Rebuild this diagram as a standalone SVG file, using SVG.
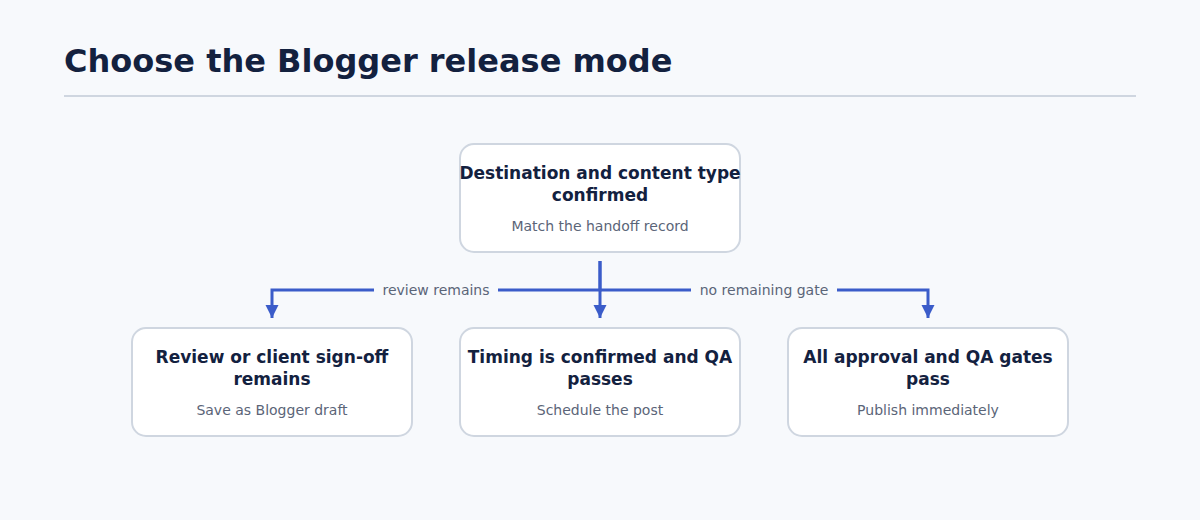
<svg xmlns="http://www.w3.org/2000/svg" width="1200" height="520" viewBox="0 0 1200 520">
<style>
.n{fill:#fff;stroke:#cfd6e0;stroke-width:2}
.t{font-family:"DejaVu Sans",sans-serif;font-size:17px;font-weight:bold;fill:#13213f;text-anchor:middle}
.s{font-family:"DejaVu Sans",sans-serif;font-size:14px;fill:#5b6578;text-anchor:middle}
.e{fill:none;stroke:#3b5cc9;stroke-width:3}
.l{font-family:"DejaVu Sans",sans-serif;font-size:14px;fill:#5b6578;text-anchor:middle}
</style>
<defs><marker id="a" viewBox="0 0 10 10" refX="10" refY="5" markerWidth="4.5" markerHeight="4.5" markerUnits="strokeWidth" orient="auto"><path d="M0,0L10,5L0,10z" fill="#3b5cc9"/></marker></defs>
<rect width="1200" height="520" fill="#f7f9fc"/>
<text x="64" y="72" font-family="DejaVu Sans,sans-serif" font-size="32" font-weight="bold" fill="#13213f">Choose the Blogger release mode</text>
<line x1="64" y1="96" x2="1136" y2="96" stroke="#cfd6e0" stroke-width="2"/>
<g id="edges">
<path class="e" d="M600,261V290H272V318" marker-end="url(#a)"/>
<path class="e" d="M600,261V318" marker-end="url(#a)"/>
<path class="e" d="M600,290H928V318" marker-end="url(#a)"/>
<rect x="374" y="279" width="124" height="22" fill="#f7f9fc"/>
<text class="l" x="436" y="295">review remains</text>
<rect x="691" y="279" width="146" height="22" fill="#f7f9fc"/>
<text class="l" x="764" y="295">no remaining gate</text>
</g>
<g id="n0"><rect class="n" x="460" y="144" width="280" height="108" rx="14"/><text class="t" x="600" y="179">Destination and content type</text><text class="t" x="600" y="201">confirmed</text><text class="s" x="600" y="231">Match the handoff record</text></g>
<g id="n1"><rect class="n" x="132" y="328" width="280" height="108" rx="14"/><text class="t" x="272" y="363">Review or client sign-off</text><text class="t" x="272" y="385">remains</text><text class="s" x="272" y="415">Save as Blogger draft</text></g>
<g id="n2"><rect class="n" x="460" y="328" width="280" height="108" rx="14"/><text class="t" x="600" y="363">Timing is confirmed and QA</text><text class="t" x="600" y="385">passes</text><text class="s" x="600" y="415">Schedule the post</text></g>
<g id="n3"><rect class="n" x="788" y="328" width="280" height="108" rx="14"/><text class="t" x="928" y="363">All approval and QA gates</text><text class="t" x="928" y="385">pass</text><text class="s" x="928" y="415">Publish immediately</text></g>
</svg>
